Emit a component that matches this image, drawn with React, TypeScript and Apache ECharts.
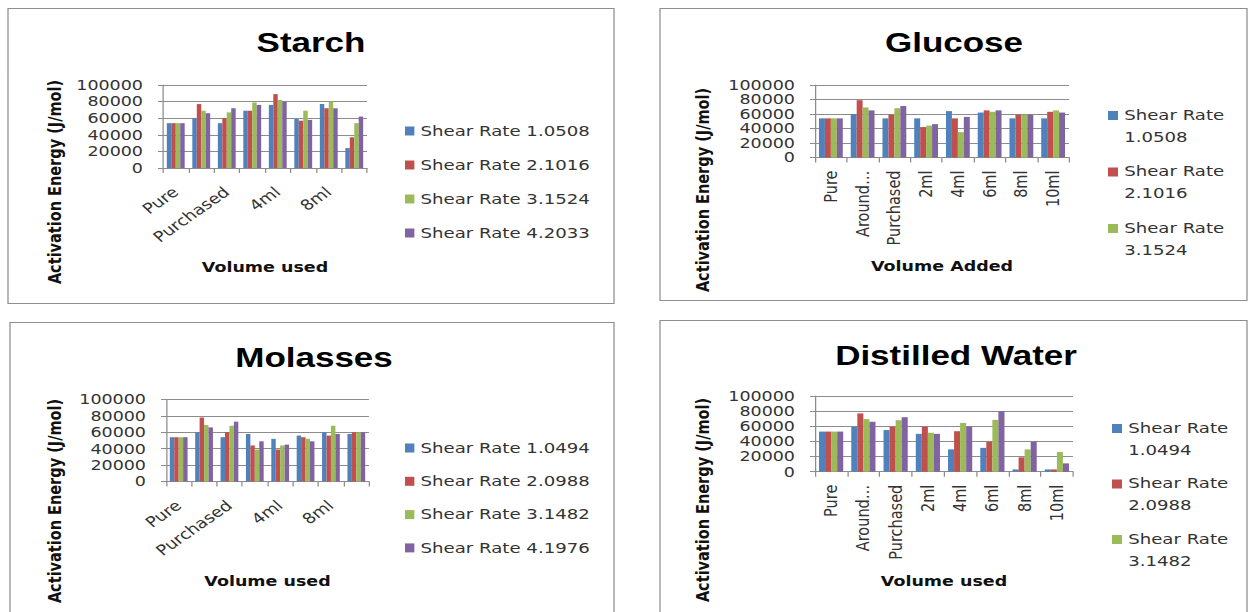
import React, { useEffect, useRef } from 'react';
import * as echarts from 'echarts';

// Categories on every x axis
const categories = ['Pure', 'Around…', 'Purchased', '2ml', '4ml', '6ml', '8ml', '10ml'];

// Legend names
const starchRates = ['Shear Rate 1.0508', 'Shear Rate 2.1016', 'Shear Rate 3.1524', 'Shear Rate 4.2033'];
const waterRates = ['Shear Rate 1.0494', 'Shear Rate 2.0988', 'Shear Rate 3.1482', 'Shear Rate 4.1976'];

// Activation energy (J/mol) — Starch
const starch1 = [54000, 60000, 54000, 69000, 76000, 59000, 77000, 24000];
const starch2 = [54000, 77000, 60000, 69000, 89000, 57000, 72000, 37000];
const starch3 = [54000, 69000, 67000, 79000, 82000, 69000, 80000, 54000];
const starch4 = [54000, 66000, 72000, 76000, 80000, 58000, 72000, 62000];

// Glucose
const glucose1 = [54000, 60000, 54000, 54000, 64000, 62000, 54000, 54000];
const glucose2 = [54000, 79000, 59000, 42000, 54000, 65000, 59000, 63000];
const glucose3 = [54000, 69000, 68000, 44000, 35000, 63000, 59000, 65000];
const glucose4 = [54000, 65000, 71000, 46000, 56000, 65000, 59000, 62000];

// Molasses
const molasses1 = [54000, 60000, 54000, 58000, 52000, 56000, 60000, 58000];
const molasses2 = [54000, 78000, 60000, 44000, 39000, 54000, 56000, 60000];
const molasses3 = [54000, 69000, 68000, 39000, 44000, 52000, 68000, 60000];
const molasses4 = [54000, 66000, 73000, 49000, 45000, 49000, 58000, 60000];

// Distilled water
const water1 = [53000, 59500, 55000, 50000, 29500, 31500, 3000, 3000];
const water2 = [53000, 77000, 59500, 59500, 53500, 39500, 19000, 3000];
const water3 = [53000, 69500, 68000, 51500, 64500, 68500, 29500, 26000];
const water4 = [53000, 66000, 72000, 50000, 59500, 80000, 39500, 11000];

const colors = ['#4F81BD', '#C0504D', '#9BBB59', '#8064A2'];

// horizontal stretch applied to the chart canvas
const SX = 1.25;
const px = (x: number) => x / SX;

const panels = [
  {
    title: 'Starch', tx: 311, ty: 42, box: [8, 8, 614, 303],
    grid: [163, 367, 85, 168], yTitleX: 55, yTitleY: 182,
    xName: 'Volume used', xNameY: 268, rotate: 41, interval: 1, margin: 22, gap: '30%',
    legend: { x: 405, top: 123, gap: 18, wrap: false, names: starchRates },
    names: starchRates, data: [starch1, starch2, starch3, starch4],
  },
  {
    title: 'Glucose', tx: 954, ty: 42, box: [660, 8, 1247, 300],
    grid: [815, 1069, 85, 157.5], yTitleX: 703, yTitleY: 190,
    xName: 'Volume Added', xNameY: 267, rotate: 90, interval: 0, margin: 13, gap: '25%',
    legend: { x: 1108, top: 104, gap: 12.5, wrap: true, names: starchRates.slice(0, 3) },
    names: starchRates, data: [glucose1, glucose2, glucose3, glucose4],
  },
  {
    title: 'Molasses', tx: 314, ty: 357, box: [10, 322, 614, 640],
    grid: [166, 369, 399.5, 481.5], yTitleX: 55, yTitleY: 501,
    xName: 'Volume used', xNameY: 582, rotate: 41, interval: 1, margin: 22, gap: '30%',
    legend: { x: 405, top: 440, gap: 17.3, wrap: false, names: waterRates },
    names: waterRates, data: [molasses1, molasses2, molasses3, molasses4],
  },
  {
    title: 'Distilled Water', tx: 956, ty: 355, box: [660, 320, 1247, 640],
    grid: [815, 1073, 396, 471.7], yTitleX: 703, yTitleY: 500,
    xName: 'Volume used', xNameY: 582, rotate: 90, interval: 0, margin: 13, gap: '25%',
    legend: { x: 1112, top: 417, gap: 11.5, wrap: true, names: waterRates.slice(0, 3) },
    names: waterRates, data: [water1, water2, water3, water4],
  },
];

const axisGray = '#8c8c8c';
const labelFont = 'DejaVu Sans';
const titleFont = 'Liberation Sans';

function buildOption() {
  const grid: any[] = [];
  const xAxis: any[] = [];
  const yAxis: any[] = [];
  const series: any[] = [];
  const legend: any[] = [];
  const title: any[] = [];
  const graphic: any[] = [];

  panels.forEach((p, i) => {
    const [x0, x1, y0, y1] = p.grid;
    grid.push({ left: px(x0), top: y0, width: px(x1) - px(x0), height: y1 - y0, containLabel: false });

    xAxis.push({
      type: 'category',
      gridIndex: i,
      data: categories,
      axisLine: { lineStyle: { color: axisGray } },
      axisTick: { show: true, interval: 0, length: 5, lineStyle: { color: axisGray } },
      axisLabel: {
        interval: p.interval, rotate: p.rotate, margin: p.margin,
        fontFamily: labelFont, fontSize: 14.5, color: '#333',
      },
      name: p.xName,
      nameLocation: 'middle',
      nameGap: p.xNameY - y1 - 8,
      nameTextStyle: { fontFamily: labelFont, fontWeight: 'bold', fontSize: 14, color: '#111' },
    });

    yAxis.push({
      type: 'value',
      gridIndex: i,
      min: 0,
      max: 100000,
      interval: 20000,
      axisLine: { show: true, lineStyle: { color: axisGray } },
      axisTick: { show: true, length: 4, lineStyle: { color: axisGray } },
      splitLine: { lineStyle: { color: axisGray } },
      axisLabel: {
        margin: 16, fontFamily: labelFont, fontSize: 14, color: '#333',
        formatter: (v: number) => String(v),
      },
    });

    p.data.forEach((values, k) => {
      series.push({
        type: 'bar',
        name: p.names[k],
        xAxisIndex: i,
        yAxisIndex: i,
        data: values,
        itemStyle: { color: colors[k] },
        barGap: '0%',
        barCategoryGap: p.gap,
      });
    });

    const lg = p.legend;
    legend.push({
      orient: 'vertical',
      left: px(lg.x),
      top: lg.top,
      itemGap: lg.gap,
      padding: 0,
      selectedMode: false,
      data: lg.names,
      itemWidth: lg.wrap ? 8 : 7.5,
      itemHeight: lg.wrap ? 30 : 9,
      icon: lg.wrap ? 'path://M0,0H8V9H0Z M0,30L0.01,30' : 'rect',
      itemStyle: { borderWidth: 0 },
      formatter: lg.wrap ? (name: string) => name.replace(/ (?=[\d.]+$)/, '\n') : '{name}',
      textStyle: {
        fontFamily: labelFont,
        fontSize: 14.5,
        color: '#333',
        lineHeight: lg.wrap ? 22 : 16,
      },
    });

    title.push({
      text: p.title,
      left: px(p.tx),
      top: p.ty,
      textAlign: 'center',
      textVerticalAlign: 'middle',
      padding: 0,
      textStyle: { fontFamily: titleFont, fontWeight: 'bold', fontSize: 28, color: '#000' },
    });

    const [bx0, by0, bx1, by1] = p.box;
    graphic.push({
      type: 'rect',
      silent: true,
      z: -10,
      shape: { x: px(bx0), y: by0 + 0.5, width: px(bx1) - px(bx0), height: by1 - by0 },
      style: { fill: 'rgba(0,0,0,0)', stroke: '#8e8e8e', lineWidth: 1 },
    });
    graphic.push({
      type: 'text',
      silent: true,
      x: px(p.yTitleX),
      y: p.yTitleY,
      rotation: Math.PI / 2,
      style: {
        text: 'Activation Energy (J/mol)',
        fontFamily: labelFont,
        fontWeight: 'bold',
        fontSize: 14.5,
        fill: '#111',
        align: 'center',
        verticalAlign: 'middle',
      },
    });
  });

  return {
    animation: false,
    backgroundColor: '#fff',
    title,
    legend,
    grid,
    xAxis,
    yAxis,
    series,
    graphic,
  };
}

export default function App() {
  const ref = useRef<HTMLDivElement>(null);

  useEffect(() => {
    if (!ref.current) return;
    const chart = echarts.init(ref.current, null, { renderer: 'svg' });
    chart.setOption(buildOption() as any);
    return () => chart.dispose();
  }, []);

  return (
    <div
      style={{
        position: 'absolute',
        left: 0,
        top: 0,
        width: 1250,
        height: 612,
        overflow: 'hidden',
        background: '#fff',
      }}
    >
      <div
        ref={ref}
        style={{
          width: 1250 / SX,
          height: 612,
          transform: `scaleX(${SX})`,
          transformOrigin: '0 0',
        }}
      />
    </div>
  );
}
